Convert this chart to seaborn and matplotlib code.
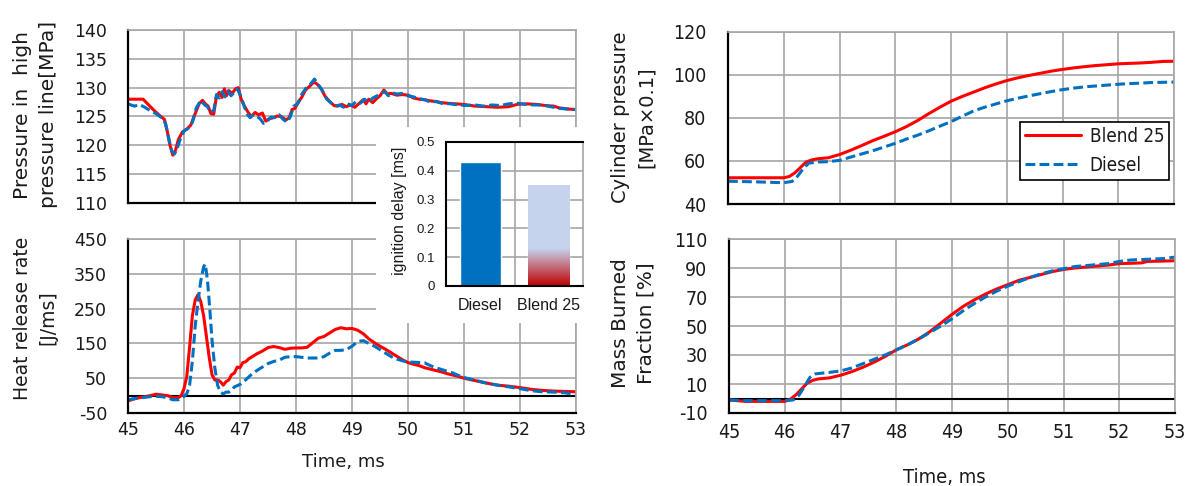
import numpy as np
import pandas as pd
import matplotlib
matplotlib.use("Agg")
import matplotlib.pyplot as plt
import seaborn as sns
from matplotlib.patches import Rectangle
from matplotlib.ticker import FuncFormatter
from matplotlib.font_manager import FontProperties

# ---------------- data ----------------
fuels = ["Blend 25", "Diesel"]
fuel_colors = {"Blend 25": "#FF0000", "Diesel": "#0070C0"}

# Pressure in high pressure line [MPa]
hp_t_blend = [45.0, 45.1, 45.27, 45.35, 45.45, 45.55, 45.65, 45.7, 45.75, 45.8, 45.85, 45.9, 45.97, 46.05,
              46.12, 46.2, 46.27, 46.33, 46.38, 46.43, 46.48, 46.53, 46.58, 46.63, 46.68, 46.72, 46.76, 46.8,
              46.86, 46.92, 46.97, 47.02, 47.08, 47.14, 47.2, 47.27, 47.33, 47.4, 47.46, 47.52, 47.6, 47.67,
              47.75, 47.82, 47.88, 47.93, 47.98, 48.03, 48.1, 48.17, 48.25, 48.32, 48.38, 48.45, 48.52, 48.6,
              48.68, 48.75, 48.82, 48.9, 48.97, 49.05, 49.12, 49.2, 49.25, 49.3, 49.37, 49.44, 49.5, 49.57,
              49.63, 49.7, 49.8, 49.9, 50.0, 50.1, 50.2, 50.3, 50.4, 50.5, 50.6, 50.7, 50.85, 51.0, 51.2,
              51.4, 51.6, 51.8, 51.95, 52.1, 52.3, 52.45, 52.6, 52.7, 52.85, 53.0]
hp_blend = [128.0, 128.0, 128.0, 127.2, 126.2, 125.3, 124.5, 122.5, 120.0, 118.3, 119.2, 121.0, 122.3, 122.8,
            123.5, 125.5, 127.2, 127.8, 127.2, 126.8, 125.5, 125.4, 128.5, 129.2, 128.3, 129.8, 128.6, 129.5,
            129.0, 129.8, 130.0, 128.0, 126.8, 125.8, 125.0, 125.7, 125.3, 125.6, 124.2, 124.6, 124.8, 125.1,
            124.9, 124.4, 124.8, 126.2, 126.4, 127.3, 128.3, 129.6, 130.3, 131.0, 130.6, 129.8, 128.5, 127.6,
            126.9, 126.8, 127.1, 126.7, 127.0, 126.6, 127.2, 127.9, 127.2, 128.0, 127.4, 128.1, 128.6, 129.6,
            128.9, 129.0, 128.7, 128.8, 128.7, 128.2, 128.0, 127.9, 127.7, 127.6, 127.4, 127.3, 127.2, 127.1, 126.8,
            126.7, 126.6, 126.7, 127.1, 127.2, 127.1, 126.9, 126.8, 126.5, 126.3, 126.2]
hp_t_diesel = [45.0, 45.05, 45.12, 45.2, 45.3, 45.4, 45.5, 45.6, 45.67, 45.72, 45.78, 45.83, 45.88, 45.93,
               46.0, 46.08, 46.15, 46.22, 46.3, 46.37, 46.42, 46.47, 46.53, 46.58, 46.63, 46.68, 46.73, 46.78,
               46.84, 46.9, 46.95, 47.0, 47.05, 47.12, 47.18, 47.24, 47.3, 47.36, 47.42, 47.48, 47.55, 47.62,
               47.7, 47.77, 47.84, 47.9, 47.96, 48.03, 48.1, 48.17, 48.25, 48.33, 48.4, 48.47, 48.55, 48.62,
               48.7, 48.78, 48.85, 48.92, 49.0, 49.07, 49.15, 49.22, 49.3, 49.37, 49.45, 49.52, 49.58, 49.65,
               49.72, 49.8, 49.9, 50.0, 50.1, 50.2, 50.3, 50.4, 50.5, 50.6, 50.75, 50.9, 51.05, 51.2, 51.35,
               51.5, 51.65, 51.8, 51.95, 52.1, 52.25, 52.4, 52.55, 52.7, 52.85, 53.0]
hp_diesel = [127.2, 127.0, 126.8, 127.1, 126.6, 126.0, 125.5, 124.8, 123.8, 121.5, 119.0, 118.5, 119.5, 121.0,
             122.5, 123.0, 124.0, 126.5, 127.8, 127.0, 126.7, 125.8, 126.0, 128.8, 128.2, 129.3, 128.4, 129.4,
             128.6, 129.2, 129.8, 128.8, 127.5, 125.5, 124.8, 125.3, 125.0, 124.6, 123.8, 124.1, 124.9, 124.8,
             125.3, 124.5, 124.0, 125.0, 126.8, 127.2, 128.8, 129.8, 130.5, 131.5, 130.5, 129.5, 128.0, 127.4,
             126.8, 127.0, 126.6, 127.2, 126.9, 127.6, 127.3, 128.0, 127.5, 128.2, 128.6, 129.0, 129.3, 128.6,
             129.1, 128.9, 129.0, 128.6, 128.4, 128.1, 127.9, 127.5, 127.6, 127.3, 127.2, 127.0, 126.9, 127.0, 126.8,
             127.0, 126.9, 127.2, 127.3, 127.1, 127.0, 127.0, 126.7, 126.4, 126.3, 126.2]

# Heat release rate [J/ms]
hrr_t_blend = [45.0, 45.1, 45.2, 45.3, 45.4, 45.5, 45.6, 45.7, 45.8, 45.9, 45.95, 46.0, 46.05, 46.1, 46.15,
               46.2, 46.25, 46.3, 46.35, 46.4, 46.45, 46.5, 46.55, 46.6, 46.65, 46.7, 46.75, 46.8, 46.85, 46.9,
               46.95, 47.0, 47.05, 47.1, 47.15, 47.2, 47.3, 47.4, 47.5, 47.6, 47.7, 47.8, 47.9, 48.0, 48.1,
               48.2, 48.3, 48.4, 48.5, 48.6, 48.7, 48.8, 48.9, 49.0, 49.1, 49.2, 49.3, 49.4, 49.5, 49.6, 49.7,
               49.8, 49.9, 50.0, 50.1, 50.2, 50.3, 50.4, 50.5, 50.6, 50.7, 50.8, 50.9, 51.0, 51.2, 51.4, 51.6,
               51.8, 52.0, 52.2, 52.4, 52.6, 52.8, 53.0]
hrr_blend = [-15, -10, -6, -3, 0, 4, 2, 0, -5, -6, 0, 20, 55, 140, 230,
             275, 290, 270, 230, 170, 110, 60, 45, 45, 40, 30, 40, 45, 60, 65,
             82, 80, 95, 97, 105, 110, 120, 128, 138, 141, 138, 133, 136, 137, 137,
             139, 152, 165, 170, 180, 190, 195, 192, 193, 188, 178, 163, 152, 142, 133, 123,
             113, 103, 95, 90, 86, 80, 76, 72, 68, 63, 59, 55, 50, 43, 36, 30,
             27, 23, 18, 15, 13, 12, 11]
hrr_t_diesel = [45.0, 45.1, 45.2, 45.3, 45.4, 45.5, 45.6, 45.7, 45.8, 45.9, 45.95, 46.0, 46.05, 46.1, 46.15,
                46.2, 46.25, 46.3, 46.35, 46.38, 46.42, 46.46, 46.5, 46.55, 46.6, 46.65, 46.7, 46.75, 46.8,
                46.85, 46.9, 47.0, 47.1, 47.2, 47.3, 47.4, 47.5, 47.6, 47.7, 47.8, 47.9, 48.0, 48.1, 48.2,
                48.3, 48.4, 48.5, 48.6, 48.7, 48.8, 48.9, 49.0, 49.1, 49.2, 49.3, 49.4, 49.5, 49.6, 49.7, 49.8,
                49.9, 50.0, 50.1, 50.2, 50.3, 50.4, 50.5, 50.6, 50.7, 50.8, 50.9, 51.0, 51.2, 51.4, 51.6, 51.8,
                52.0, 52.2, 52.4, 52.6, 52.8, 53.0]
hrr_diesel = [-12, -9, -7, -5, -3, -2, -3, -6, -12, -12, -8, -2, 5, 30, 100,
              200, 270, 330, 370, 378, 330, 250, 160, 80, 30, 10, 5, 10, 10,
              15, 25, 32, 45, 60, 72, 82, 92, 98, 102, 110, 112, 112, 110, 108,
              108, 108, 112, 122, 130, 130, 132, 142, 155, 158, 150, 142, 132, 122, 112, 105,
              100, 97, 96, 95, 94, 86, 80, 75, 70, 65, 58, 52, 44, 36, 30, 25,
              20, 14, 11, 10, 8, 3]

# Cylinder pressure [MPa x 0.1]
cp_t_blend = [45.0, 45.5, 46.0, 46.1, 46.2, 46.3, 46.4, 46.5, 46.6, 46.8, 47.0, 47.2, 47.4, 47.6, 47.8, 48.0,
              48.2, 48.4, 48.6, 48.8, 49.0, 49.2, 49.4, 49.6, 49.8, 50.0, 50.2, 50.4, 50.6, 50.8, 51.0, 51.2,
              51.4, 51.6, 51.8, 52.0, 52.2, 52.4, 52.6, 52.8, 53.0]
cp_blend = [52.2, 52.2, 52.2, 52.8, 54.5, 57.0, 59.5, 60.5, 61.0, 61.5, 63.0, 65.0, 67.2, 69.5, 71.5, 73.6,
            76.0, 78.8, 82.0, 85.0, 87.8, 90.0, 92.0, 94.0, 95.8, 97.4, 98.7, 99.8, 100.8, 101.8, 102.6, 103.3,
            103.9, 104.4, 104.8, 105.2, 105.4, 105.6, 105.9, 106.3, 106.4]
cp_t_diesel = [45.0, 45.5, 46.0, 46.15, 46.25, 46.35, 46.45, 46.6, 46.8, 47.0, 47.2, 47.4, 47.6, 47.8, 48.0,
               48.2, 48.4, 48.6, 48.8, 49.0, 49.2, 49.4, 49.6, 49.8, 50.0, 50.2, 50.4, 50.6, 50.8, 51.0, 51.2,
               51.4, 51.6, 51.8, 52.0, 52.2, 52.4, 52.6, 52.8, 53.0]
cp_diesel = [50.6, 50.3, 49.9, 50.5, 53.0, 56.5, 59.0, 59.5, 59.7, 60.3, 61.8, 63.3, 64.8, 66.5, 68.2,
             70.2, 72.0, 74.0, 76.2, 78.3, 80.8, 83.2, 85.0, 86.5, 88.0, 89.2, 90.3, 91.3, 92.3, 93.2, 93.9,
             94.5, 94.9, 95.3, 95.7, 96.0, 96.2, 96.5, 96.6, 96.7]

# Mass burned fraction [%]
mbf_t_blend = [45.0, 45.15, 45.3, 45.6, 46.0, 46.1, 46.2, 46.3, 46.4, 46.5, 46.6, 46.8, 47.0, 47.2, 47.4,
               47.6, 47.8, 48.0, 48.2, 48.4, 48.6, 48.8, 49.0, 49.2, 49.4, 49.6, 49.8, 50.0, 50.2, 50.4, 50.6,
               50.8, 51.0, 51.2, 51.5, 51.8, 52.0, 52.4, 52.5, 53.0]
mbf_blend = [-1.0, -1.5, -2.0, -2.0, -2.0, -0.5, 2.5, 6.5, 10.5, 12.5, 13.5, 14.2, 16.0, 18.5, 21.5,
             25.0, 29.0, 33.5, 37.0, 41.0, 46.0, 52.0, 58.0, 63.5, 68.0, 72.0, 75.5, 78.5, 81.5, 83.5, 85.5,
             87.5, 89.0, 90.0, 91.0, 92.0, 93.0, 93.5, 94.5, 95.0]
mbf_t_diesel = [45.0, 45.3, 45.6, 46.0, 46.15, 46.25, 46.35, 46.45, 46.55, 46.8, 47.0, 47.2, 47.4, 47.6, 47.8,
                48.0, 48.2, 48.4, 48.6, 48.8, 49.0, 49.2, 49.4, 49.6, 49.8, 50.0, 50.2, 50.4, 50.6, 50.8, 51.0,
                51.2, 51.5, 51.8, 52.0, 52.2, 52.5, 52.8, 53.0]
mbf_diesel = [-1.0, -1.5, -1.5, -1.5, -1.0, 2.0, 8.0, 14.5, 17.0, 18.0, 19.0, 21.0, 24.0, 27.0, 30.0,
              33.5, 37.0, 41.0, 45.5, 50.0, 55.0, 60.5, 65.5, 70.0, 74.0, 77.5, 80.5, 83.5, 86.0, 88.0, 89.5,
              91.0, 92.0, 93.0, 94.5, 95.5, 96.0, 96.5, 97.5]

# Ignition delay inset
delay_fuels = ["Diesel", "Blend 25"]
delay_ms = [0.43, 0.35]
delay_ticks = [0, 0.1, 0.2, 0.3, 0.4, 0.5]

x_ticks = [45, 46, 47, 48, 49, 50, 51, 52, 53]
hp_ticks = [110, 115, 120, 125, 130, 135, 140]
hrr_ticks = [-50, 50, 150, 250, 350, 450]
cp_ticks = [40, 60, 80, 100, 120]
mbf_ticks = [-10, 10, 30, 50, 70, 90, 110]

# ---------------- style ----------------
sns.set_theme(style="white")
plt.rcParams["font.family"] = ["DejaVu Sans"]
plt.rcParams["axes.unicode_minus"] = False
plt.rcParams["text.color"] = "#1a1a1a"
plt.rcParams["axes.labelcolor"] = "#1a1a1a"
plt.rcParams["xtick.color"] = "#1a1a1a"
plt.rcParams["ytick.color"] = "#1a1a1a"

COND = ["DejaVu Sans Condensed", "DejaVu Sans"]
GRID = "#A6A6A6"
W, H = 1187, 486
fig = plt.figure(figsize=(W / 100, H / 100), dpi=100)


def fig_rect(l, t, r, b):
    return [l / W, 1 - b / H, (r - l) / W, (b - t) / H]


def long_df(tb, vb, td, vd):
    return pd.concat([pd.DataFrame({"t": tb, "v": vb, "fuel": "Blend 25"}),
                      pd.DataFrame({"t": td, "v": vd, "fuel": "Diesel"})], ignore_index=True)


def panel(rect, df, ylim, yticks, ylabel, ylab_xy, show_x, xlab_xy=None, ypad=15, xpad=6, legend=False,
          zero_line=False, ylab_size=13.5, condensed=False, tick_fs=12.5, xlab_fs=13):
    ax = fig.add_axes(fig_rect(*rect))
    sns.lineplot(data=df, x="t", y="v", hue="fuel", style="fuel", hue_order=fuels, style_order=fuels,
                 palette=fuel_colors, dashes={"Blend 25": "", "Diesel": (3.2, 1.4)},
                 estimator=None, linewidth=2.2, ax=ax, legend=legend)
    if zero_line:
        ax.axhline(0, color="black", lw=1.5, zorder=1.5)
    ax.set_xlim(45, 53)
    ax.set_ylim(*ylim)
    ax.set_xticks(x_ticks)
    ax.set_yticks(yticks)
    ax.grid(True, color=GRID, lw=1.2)
    ax.set_axisbelow(True)
    for s in ["top", "right"]:
        ax.spines[s].set_color(GRID)
        ax.spines[s].set_linewidth(1.2)
    for s in ["left", "bottom"]:
        ax.spines[s].set_color("black")
        ax.spines[s].set_linewidth(1.6)
    ax.tick_params(axis="y", length=0, labelsize=tick_fs, pad=ypad)
    ax.tick_params(axis="x", length=0, labelsize=tick_fs, pad=xpad, labelbottom=show_x)
    if condensed:
        for lab in ax.get_xticklabels() + ax.get_yticklabels():
            lab.set_family(COND)
            lab.set_stretch("condensed")
    ax.set_ylabel(ylabel, fontsize=ylab_size, linespacing=1.45)
    ax.yaxis.set_label_coords(*ylab_xy)
    ax.yaxis.label.set_va("center")
    if show_x:
        ax.set_xlabel("Time, ms", fontsize=xlab_fs)
        ax.xaxis.set_label_coords(*xlab_xy)
        ax.xaxis.label.set_va("center")
        if condensed:
            ax.xaxis.label.set_family(COND)
            ax.xaxis.label.set_stretch("condensed")
    else:
        ax.set_xlabel("")
    return ax


ax1 = panel((128, 30, 576, 203), long_df(hp_t_blend, hp_blend, hp_t_diesel, hp_diesel), (110, 140), hp_ticks,
            "Pressure in  high\npressure line[MPa]", (-0.2065, 0.51), False, ylab_size=14.5)
ax2 = panel((128, 239, 576, 413), long_df(hrr_t_blend, hrr_blend, hrr_t_diesel, hrr_diesel), (-50, 450),
            hrr_ticks, "Heat release rate\n[J/ms]", (-0.2076, 0.546), True, xlab_xy=(0.48, -0.282),
            zero_line=True)
ax3 = panel((728, 32, 1174, 204), long_df(cp_t_blend, cp_blend, cp_t_diesel, cp_diesel), (40, 120), cp_ticks,
            "Cylinder pressure\n[MPa×0.1]", (-0.213, 0.506), False, legend=True, ypad=15.5,
            ylab_size=14, condensed=True, tick_fs=14)
ax4 = panel((729, 239, 1175, 413), long_df(mbf_t_blend, mbf_blend, mbf_t_diesel, mbf_diesel), (-10, 110),
            mbf_ticks, "Mass Burned\nFraction [%]", (-0.215, 0.517), True, xlab_xy=(0.482, -0.368),
            zero_line=True, xpad=7, ypad=15.5, ylab_size=14.5, condensed=True, tick_fs=14, xlab_fs=14.5)

sns.move_legend(ax3, "upper left", bbox_to_anchor=(0.655, 0.477), title=None, frameon=True,
                fancybox=False, edgecolor="black", borderaxespad=0,
                prop=FontProperties(family=COND, stretch="condensed", size=13.5),
                handlelength=3.0, borderpad=0.25, labelspacing=0.55, handletextpad=0.45, framealpha=1)
ax3.get_legend().get_frame().set_linewidth(1.2)

# white backdrop for the inset
fig.add_artist(Rectangle((376 / W, 1 - 323 / H), (590 - 376) / W, (323 - 127) / H,
                         transform=fig.transFigure, facecolor="white", edgecolor="none", zorder=1))

# ---------------- inset ----------------
INSET_FONT = ["Liberation Sans", "DejaVu Sans"]
axi = fig.add_axes(fig_rect(446, 142, 583, 286))
axi.set_zorder(2)
sns.barplot(x=delay_fuels, y=delay_ms, hue=delay_fuels, palette=["#0070C0", "#C5D4EE"], width=0.6,
            saturation=1, legend=False, ax=axi)
axi.set_ylim(0, 0.5)
axi.set_xlim(-0.5, 1.5)
axi.set_yticks(delay_ticks)
axi.yaxis.set_major_formatter(FuncFormatter(lambda v, _: f"{v:g}"))
axi.set_xticks([0.5], minor=True)
axi.grid(True, which="major", axis="y", color=GRID, lw=1.2)
axi.grid(True, which="minor", axis="x", color=GRID, lw=1.2)
axi.grid(False, which="major", axis="x")
axi.set_axisbelow(True)
for s in ["left", "bottom", "top"]:
    axi.spines[s].set_color("black")
    axi.spines[s].set_linewidth(1.5)
axi.spines["right"].set_color(GRID)
axi.spines["right"].set_linewidth(1.2)
axi.tick_params(axis="y", which="both", length=0, labelsize=9.5, pad=8)
axi.tick_params(axis="x", which="both", length=0, labelsize=11.5, pad=9)
for lab in axi.get_xticklabels() + axi.get_yticklabels():
    lab.set_family(INSET_FONT)
axi.set_ylabel("ignition delay [ms]", fontsize=11.5, family=INSET_FONT)
axi.yaxis.set_label_coords(-0.343, 0.52)
axi.yaxis.label.set_va("center")
axi.set_xlabel("")

# gradient fill for the Blend 25 bar
bar = axi.patches[1]
x0, bw, bh = bar.get_x(), bar.get_width(), bar.get_height()
n = 300
yy = np.linspace(0, bh, n)
f = np.clip(yy / 0.13, 0, 1)[:, None]
red = np.array([0.75, 0.0, 0.0])
lblue = np.array([0.773, 0.831, 0.933])
img = (red * (1 - f) + lblue * f)[:, None, :]
im = axi.imshow(img, extent=[x0, x0 + bw, 0, bh], origin="lower", aspect="auto",
                zorder=bar.get_zorder() + 0.1, interpolation="bilinear")
im.set_clip_path(bar)
bar.set_facecolor("none")
axi.set_xlim(-0.5, 1.5)
axi.set_ylim(0, 0.5)
axi.set_aspect("auto")

fig.savefig("out.png", dpi=100)
